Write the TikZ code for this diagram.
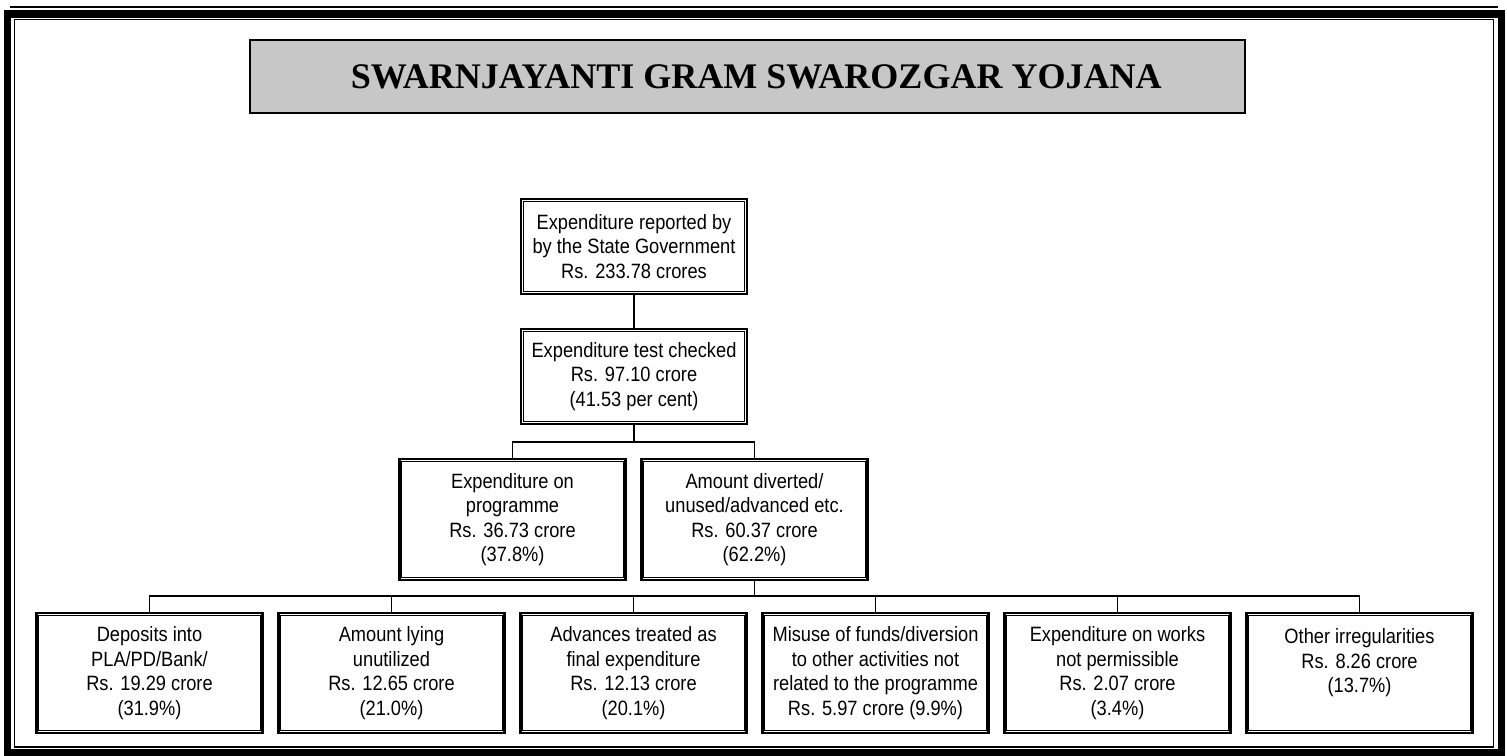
\documentclass[tikz,border=0pt]{standalone}
\usepackage{fontspec}
\setmainfont{Liberation Sans}
\newfontfamily\boxfont[FakeStretch=0.88]{Liberation Sans}
\newfontfamily\titlefont{Liberation Serif}
\begin{document}
\begin{tikzpicture}[x=0.02cm,y=-0.02cm,
    box/.style={draw,line width=1.5pt,rectangle,align=center,minimum width=4.52cm,inner sep=0pt,font=\boxfont\fontsize{11.8}{13.9}\selectfont},
    short/.style={box,minimum height=1.9cm},
    tall/.style={box,minimum height=2.42cm},
    low/.style={box,minimum height=2.4cm},
    link/.style={line width=0.7pt}]
    \useasboundingbox (0,0) rectangle (1507,755);
    % page border
    \draw[line width=4pt] (7.5,14) rectangle (1501,752.5);
    \draw[line width=0.8pt] (14.5,19.5) rectangle (1493.5,747);
    \draw[line width=0.9pt] (10,7) -- (1498,7);
    % title
    \node[draw,line width=1.1pt,fill=black!22,minimum width=19.9cm,minimum height=1.46cm,inner sep=0pt,
        font=\titlefont\bfseries\fontsize{20.5}{24}\selectfont] (title) at (747.5,76.5) {\hspace*{0.35cm}SWARNJAYANTI GRAM SWAROZGAR YOJANA};
    % boxes
    \node[short] at (634,246.5) (top) {Expenditure reported by\\by the State Government\\Rs. 233.78 crores};
    \node[short] at (634,376.5) (chk) {Expenditure test checked\\Rs. 97.10 crore\\(41.53 per cent)};
    \node[tall] at (512.5,519.5) (prog) {Expenditure on\\programme\\Rs. 36.73 crore\\(37.8\%)};
    \node[tall] at (754.5,519.5) (divert) {Amount diverted/\\unused/advanced etc.\\Rs. 60.37 crore\\(62.2\%)};
    \node[low] at (149.5,673) (a) {Deposits into\\PLA/PD/Bank/\\Rs. 19.29 crore\\(31.9\%)};
    \node[low] at (391.5,673) (b) {Amount lying\\unutilized\\Rs. 12.65 crore\\(21.0\%)};
    \node[low] at (633.5,673) (c) {Advances treated as\\final expenditure\\Rs. 12.13 crore\\(20.1\%)};
    \node[low] at (875.5,673) (d) {Misuse of funds/diversion\\to other activities not\\related to the programme\\Rs. 5.97 crore (9.9\%)};
    \node[low] at (1117.5,673) (e) {Expenditure on works\\not permissible\\Rs. 2.07 crore\\(3.4\%)};
    \node[low] at (1359.5,673) (f) {Other irregularities\\Rs. 8.26 crore\\(13.7\%)\\\mbox{}};
    % inner lines of the double borders
    \foreach \n in {top,chk,prog,divert,a,b,c,d,e,f}
        \draw[line width=0.6pt] ([shift={(2pt,2pt)}]\n.south west) rectangle ([shift={(-2pt,-2pt)}]\n.north east);
    % connectors
    \coordinate (j1) at (634,442);
    \coordinate (j2) at (754.5,596);
    \draw[link] (top) -- (chk);
    \draw[link] (chk) -- (j1) -| (prog);
    \draw[link] (j1) -| (divert);
    \draw[link] (divert) -- (j2);
    \foreach \b in {a,b,c,d,e,f}
        \draw[link] (j2) -| (\b);
\end{tikzpicture}
\end{document}
